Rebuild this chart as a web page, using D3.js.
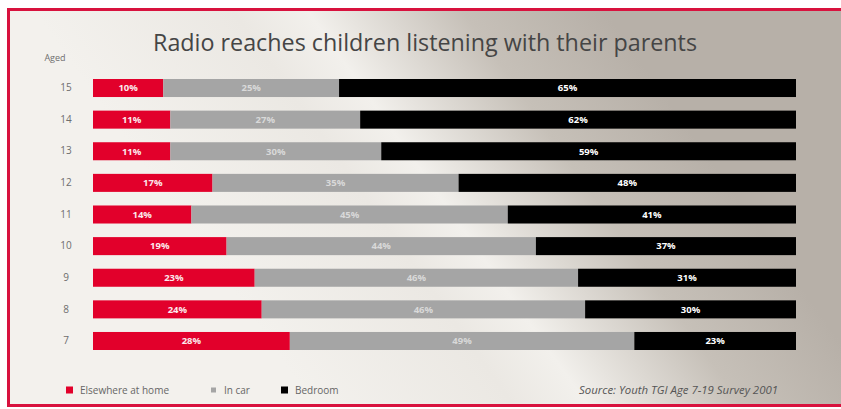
<!DOCTYPE html>
<html>
<head>
<meta charset="utf-8">
<script src="https://cdn.jsdelivr.net/npm/d3@7/dist/d3.min.js"></script>
<style>
  html, body { margin: 0; padding: 0; background: #ffffff; }
  svg { display: block; }
  text { font-family: "Liberation Sans Narrow", "Open Sans", "Liberation Sans", sans-serif; }
</style>
</head>
<body>
<svg id="chart" width="841" height="409"></svg>
<script>
// Age groups, top to bottom
const ages = ["15", "14", "13", "12", "11", "10", "9", "8", "7"];
// Share of radio listening by location (%)
const elsewhereAtHome = [10, 11, 11, 17, 14, 19, 23, 24, 28];
const inCar           = [25, 27, 30, 35, 45, 44, 46, 46, 49];
const bedroom         = [65, 62, 59, 48, 41, 37, 31, 30, 23];
const seriesNames = ["Elsewhere at home", "In car", "Bedroom"];
const seriesColors = ["#e2002b", "#a5a5a5", "#000000"];
const labelColors = ["#fbe9ec", "#d9d9d9", "#ffffff"];

const title = "Radio reaches children listening with their parents";
const axisTitle = "Aged";
const sourceText = "Source: Youth TGI Age 7-19 Survey 2001";

const W = 841, H = 409;
const svg = d3.select("#chart");

// Panel background: light on the lower left fading to warm grey on the upper right
const defs = svg.append("defs");
const grad = defs.append("linearGradient")
  .attr("id", "panelBg")
  .attr("gradientUnits", "userSpaceOnUse")
  .attr("x1", 260).attr("y1", 330)
  .attr("x2", 640).attr("y2", 60);
grad.append("stop").attr("offset", "0%").attr("stop-color", "#f3f1ed");
grad.append("stop").attr("offset", "35%").attr("stop-color", "#ebe8e3");
grad.append("stop").attr("offset", "48%").attr("stop-color", "#f2f0ec");
grad.append("stop").attr("offset", "75%").attr("stop-color", "#c6c0b8");
grad.append("stop").attr("offset", "100%").attr("stop-color", "#b7b0a8");

svg.append("rect").attr("x", 0).attr("y", 0).attr("width", W).attr("height", H).attr("fill", "#ffffff");
svg.append("rect")
  .attr("x", 8).attr("y", 9).attr("width", W - 8).attr("height", 396)
  .attr("fill", "url(#panelBg)");

// Red frame (top, left, bottom)
const frame = svg.append("g").attr("stroke", "#d8123e").attr("stroke-width", 3).attr("fill", "none");
frame.append("path").attr("d", `M${W},9.5 H8.5 V405.5 H${W}`);

// Title
svg.append("text")
  .attr("x", 425).attr("y", 51)
  .attr("text-anchor", "middle")
  .attr("font-size", 23)
  .attr("fill", "#454545")
  .attr("textLength", 544)
  .attr("lengthAdjust", "spacingAndGlyphs")
  .text(title);

// Scales
const x = d3.scaleLinear().domain([0, 100]).range([93, 796]);
const y = d3.scaleBand().domain(ages).range([79, 350]).paddingInner(0.43).paddingOuter(0);

// Stack the series
const rows = ages.map((a, i) => ({
  age: a,
  "Elsewhere at home": elsewhereAtHome[i],
  "In car": inCar[i],
  "Bedroom": bedroom[i]
}));
const stacked = d3.stack().keys(seriesNames)(rows);

const layers = svg.append("g").selectAll("g")
  .data(stacked)
  .join("g")
  .attr("fill", (d, i) => seriesColors[i]);

layers.selectAll("rect")
  .data(d => d)
  .join("rect")
  .attr("x", d => x(d[0]))
  .attr("y", d => y(d.data.age))
  .attr("width", d => x(d[1]) - x(d[0]))
  .attr("height", y.bandwidth());

// Value labels centred in each segment
const labels = svg.append("g").selectAll("g")
  .data(stacked)
  .join("g")
  .attr("fill", (d, i) => labelColors[i]);

labels.selectAll("text")
  .data(d => d.map(v => ({ v, key: d.key })))
  .join("text")
  .attr("x", d => (x(d.v[0]) + x(d.v[1])) / 2)
  .attr("y", d => y(d.v.data.age) + y.bandwidth() / 2)
  .attr("dy", "0.35em")
  .attr("text-anchor", "middle")
  .attr("font-size", 9.5)
  .attr("font-weight", "bold")
  .text(d => `${d.v.data[d.key]}%`);

// Age axis (no line, no ticks)
const axis = svg.append("g")
  .attr("transform", "translate(74,0)")
  .call(d3.axisLeft(y).tickSize(0).tickPadding(0));
axis.select(".domain").remove();
axis.selectAll("text")
  .attr("text-anchor", "middle")
  .attr("x", -8)
  .attr("font-size", 10)
  .attr("fill", "#6e6e6e")
  .style("font-family", '"Liberation Sans Narrow", "Open Sans", sans-serif');

svg.append("text")
  .attr("x", 55).attr("y", 61)
  .attr("text-anchor", "middle")
  .attr("font-size", 9)
  .attr("fill", "#6e6e6e")
  .text(axisTitle);

// Legend
const legendX = [66, 210, 281];
const legendSize = [7, 5, 7];
const legend = svg.append("g").selectAll("g")
  .data(seriesNames)
  .join("g")
  .attr("transform", (d, i) => `translate(${legendX[i]},390)`);
legend.append("rect")
  .attr("x", (d, i) => (7 - legendSize[i]) / 2)
  .attr("y", (d, i) => -legendSize[i] / 2)
  .attr("width", (d, i) => legendSize[i])
  .attr("height", (d, i) => legendSize[i])
  .attr("fill", (d, i) => seriesColors[i]);
legend.append("text")
  .attr("x", 14)
  .attr("dy", "0.35em")
  .attr("font-size", 10)
  .attr("fill", "#666666")
  .text(d => d);

// Source note
svg.append("text")
  .attr("x", 778).attr("y", 390)
  .attr("dy", "0.35em")
  .attr("text-anchor", "end")
  .attr("font-size", 10)
  .attr("font-style", "italic")
  .attr("fill", "#555555")
  .attr("textLength", 199)
  .attr("lengthAdjust", "spacingAndGlyphs")
  .text(sourceText);
</script>
</body>
</html>
